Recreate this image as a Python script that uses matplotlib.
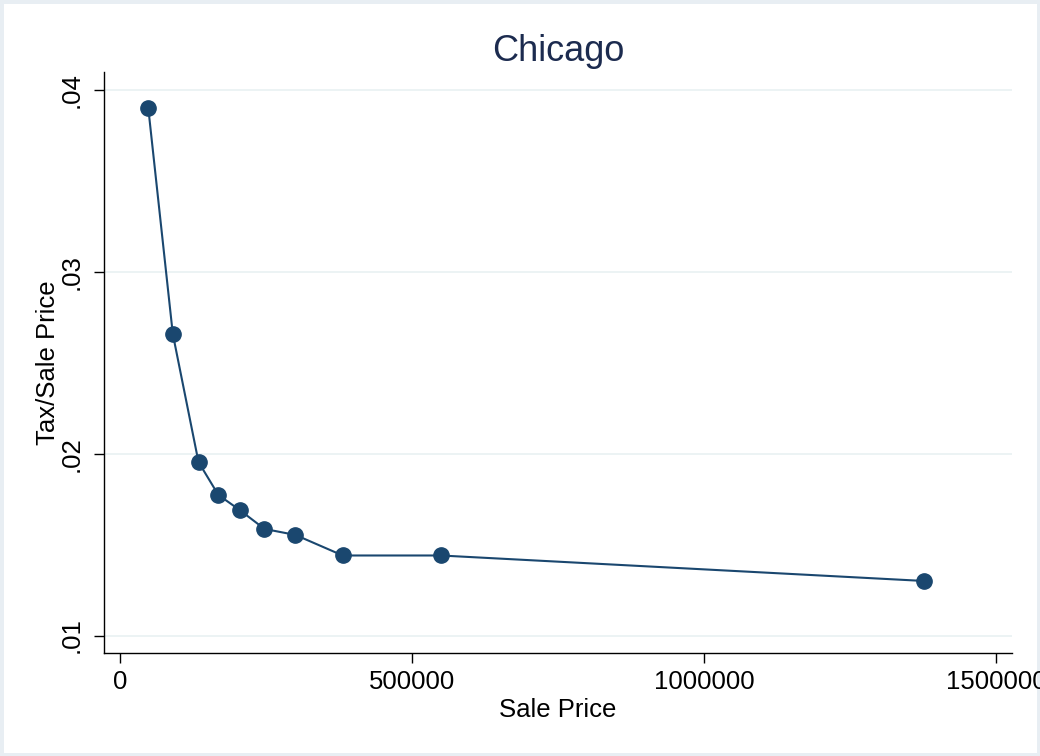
import matplotlib
matplotlib.use('Agg')
import matplotlib.pyplot as plt
from matplotlib.patches import Rectangle

# values
sale_price = [48000, 90000, 134000, 168000, 205000, 247000, 300000, 381000, 549000, 1376000]
tax_ratio = [0.0390, 0.02658, 0.01954, 0.01773, 0.01689, 0.01586, 0.01553, 0.0144, 0.0144, 0.0130]

x_ticks = [0, 500000, 1000000, 1500000]
x_tick_labels = ['0', '500000', '1000000', '1500000']
y_ticks = [0.01, 0.02, 0.03, 0.04]
y_tick_labels = ['.01', '.02', '.03', '.04']

navy = '#1a476f'
grid_color = '#eaf2f3'

plt.rcParams['font.family'] = ['Liberation Sans', 'DejaVu Sans']

fig = plt.figure(figsize=(10.4, 7.56), dpi=100)
fig.patches.append(Rectangle((0, 0), 1, 1, transform=fig.transFigure,
                             facecolor='white', edgecolor='#e8eef3', linewidth=5, zorder=-10))

ax = fig.add_axes([0.0997, 0.1369, 0.8734, 0.7679])
ax.plot(sale_price, tax_ratio, color=navy, linewidth=1.5, marker='o',
        markersize=11, markerfacecolor=navy, markeredgecolor=navy, zorder=3)

ax.set_xlim(-28400, 1527400)
ax.set_ylim(0.009065, 0.04099)

ax.set_xticks(x_ticks)
ax.set_xticklabels(x_tick_labels)
ax.set_yticks(y_ticks)
ax.set_yticklabels(y_tick_labels, rotation=90, va='center')

ax.tick_params(axis='x', length=7.5, width=1, pad=5, labelsize=18.5, colors='black')
ax.tick_params(axis='y', length=7.5, width=1, pad=7, labelsize=18.5, colors='black')

ax.grid(axis='y', color=grid_color, linewidth=1.3)
ax.set_axisbelow(True)

for side in ['top', 'right']:
    ax.spines[side].set_visible(False)
for side in ['left', 'bottom']:
    ax.spines[side].set_linewidth(1)
    ax.spines[side].set_color('black')

ax.set_xlabel('Sale Price', fontsize=18.5, labelpad=3)
ax.set_ylabel('Tax/Sale Price', fontsize=18.5, labelpad=0)
ax.set_title('Chicago', fontsize=26, color='#1c2b4f', pad=8)

fig.savefig('out.png', dpi=100)
